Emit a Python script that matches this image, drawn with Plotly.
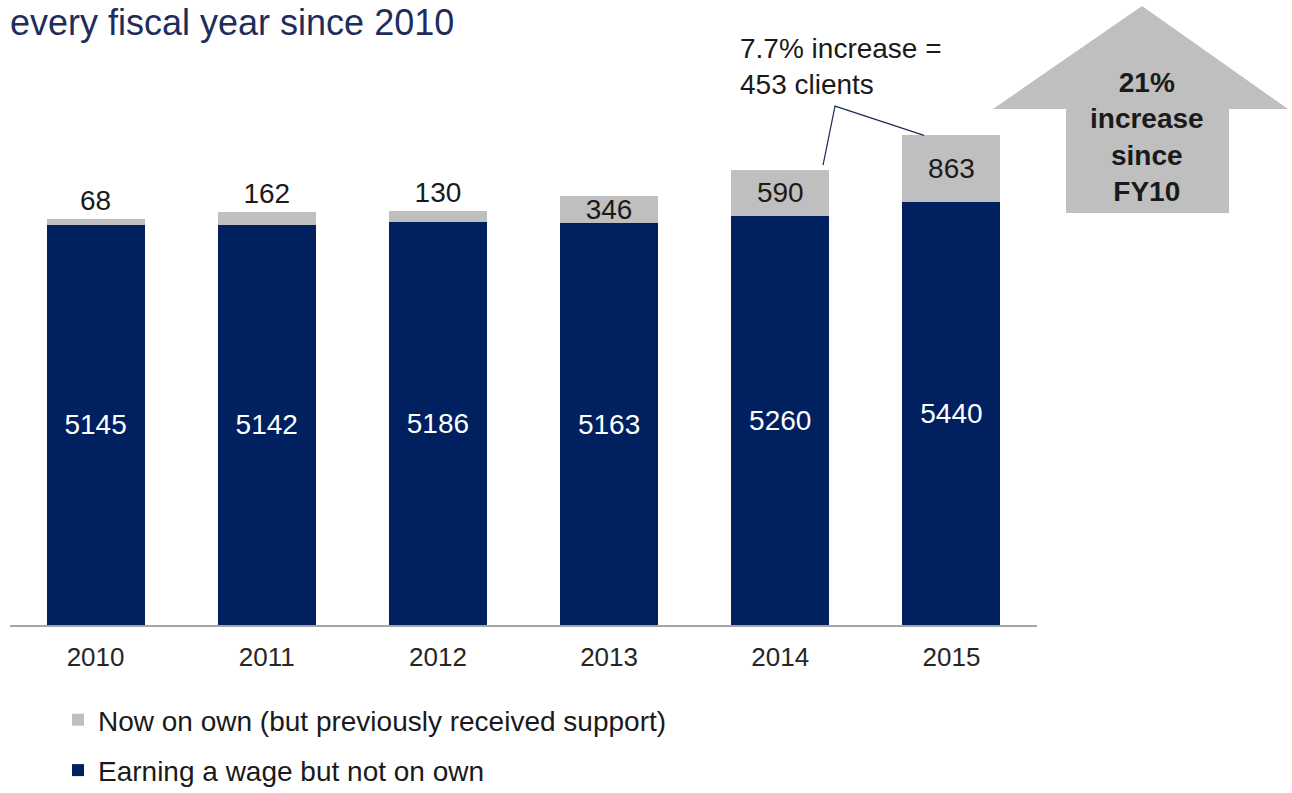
import plotly.graph_objects as go

# Fiscal years and client counts
years = ["2010", "2011", "2012", "2013", "2014", "2015"]
earning_wage = [5145, 5142, 5186, 5163, 5260, 5440]
now_on_own = [68, 162, 130, 346, 590, 863]

NAVY = "#002060"
GREY = "#BFBFBF"
FONT = "Arial, Liberation Sans, sans-serif"

W, H = 1292, 793
ML, MR, MT, MB = 10, 255, 100, 168
PW, PH = W - ML - MR, H - MT - MB
Y_MAX = 6748


def px_to_paper(px, py):
    return (px - ML) / PW, (H - MB - py) / PH


totals = [a + b for a, b in zip(earning_wage, now_on_own)]
# short grey segments get their label above the stack, tall ones inside
grey_pos = ["inside" if v >= 300 else "outside" for v in now_on_own]

fig = go.Figure()
fig.add_trace(go.Bar(
    x=years, y=earning_wage, name="Earning a wage but not on own",
    marker=dict(color=NAVY, line=dict(width=0)),
    text=[str(v) for v in earning_wage], textposition="inside",
    insidetextanchor="middle", textfont=dict(color="white", size=28, family=FONT),
    legendgroup="wage", legendrank=2, hoverinfo="x+y",
))
fig.add_trace(go.Bar(
    x=years, y=now_on_own, name="Now on own (but previously received support)",
    marker=dict(color=GREY, line=dict(width=0)),
    text=[str(v) for v in now_on_own], textposition=grey_pos,
    insidetextanchor="middle", textfont=dict(color="#1a1a1a", size=28, family=FONT),
    outsidetextfont=dict(color="#1a1a1a", size=28, family=FONT),
    constraintext="none", cliponaxis=False,
    legendgroup="own", legendrank=1, hoverinfo="x+y",
))

shapes = []
# callout leader from the 2014 stack to the 2015 stack
shapes.append(dict(
    type="path", xref="x", yref="y",
    path=f"M 4.25,{totals[4] + 60} L 4.32,{totals[4] + 820} L 4.84,{totals[5] - 10}",
    line=dict(color="#1F2D5C", width=1.2),
))

# big grey arrow
arrow_px = [(1142, 6), (1288, 109), (1229, 109), (1229, 213),
            (1066, 213), (1066, 109), (993, 109)]
pts = [px_to_paper(x, y) for x, y in arrow_px]
path = "M " + " L ".join(f"{x:.5f},{y:.5f}" for x, y in pts) + " Z"
shapes.append(dict(type="path", xref="paper", yref="paper", path=path,
                   fillcolor=GREY, line=dict(width=0), layer="above"))

annotations = []
tx, ty = px_to_paper(8, 0)
annotations.append(dict(
    text="every fiscal year since 2010", x=tx, y=ty, xref="paper", yref="paper",
    xanchor="left", yanchor="top", showarrow=False,
    font=dict(size=36, color="#1F2D5C", family=FONT),
))
cx, cy = px_to_paper(738, 67)
annotations.append(dict(
    text="7.7% increase =<br>453 clients", x=cx, y=cy, xref="paper", yref="paper",
    xanchor="left", yanchor="middle", align="left", showarrow=False,
    font=dict(size=28, color="#1a1a1a", family=FONT),
))
ax, ay = px_to_paper(1147, 137)
annotations.append(dict(
    text="<b>21%<br>increase<br>since<br>FY10</b>", x=ax, y=ay, xref="paper", yref="paper",
    xanchor="center", yanchor="middle", align="center", showarrow=False,
    font=dict(size=28, color="#1a1a1a", family=FONT),
))

fig.update_layout(
    width=W, height=H,
    margin=dict(l=ML, r=MR, t=MT, b=MB, pad=0, autoexpand=False),
    barmode="stack", bargap=0.428,
    plot_bgcolor="white", paper_bgcolor="white",
    font=dict(family=FONT, color="#1a1a1a"),
    xaxis=dict(
        type="category", showgrid=False, showline=True, linecolor="#A6A6A6",
        linewidth=1.5, ticks="", tickfont=dict(size=26, color="#262626", family=FONT),
        ticklabelstandoff=8, zeroline=False, fixedrange=True, automargin=False,
    ),
    yaxis=dict(range=[0, Y_MAX], visible=False, showgrid=False, fixedrange=True),
    showlegend=True,
    legend=dict(
        xref="container", yref="container",
        x=58 / W, y=1 - 695 / H, xanchor="left", yanchor="top",
        traceorder="grouped", tracegroupgap=11,
        font=dict(size=28, color="#1a1a1a", family=FONT),
        bgcolor="rgba(0,0,0,0)", itemclick=False, itemdoubleclick=False,
    ),
    shapes=shapes, annotations=annotations,
)

fig.write_html("out.html")
